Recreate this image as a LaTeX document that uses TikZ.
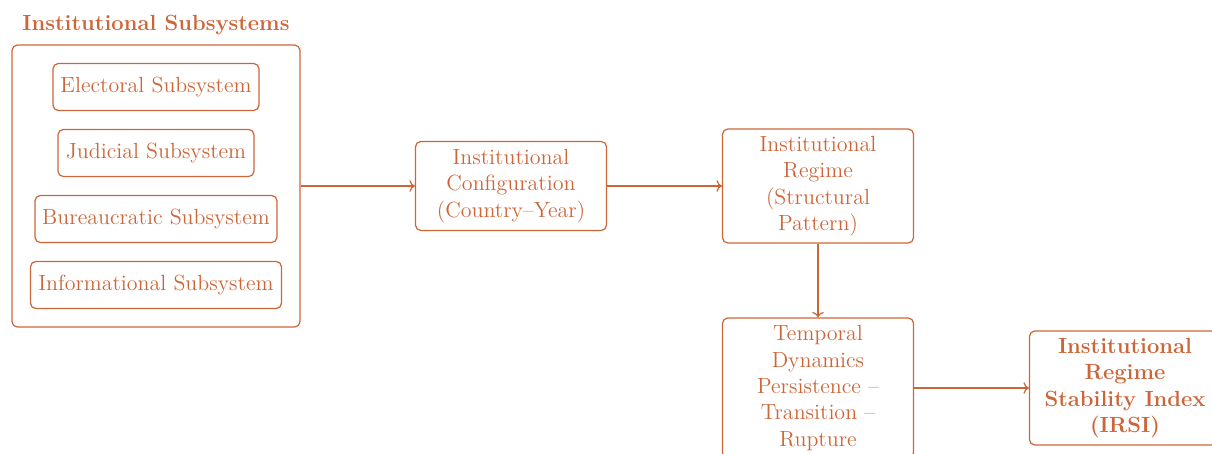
\documentclass[tikz,border=0pt]{standalone}
\usepackage{xcolor}
\usepackage{tikz}
\usetikzlibrary{arrows.meta}
\usetikzlibrary{shapes.geometric, arrows, positioning, calc}
\definecolor{rust}{RGB}{204,102,56}

\begin{document}
\begin{tikzpicture}[x=0.02cm, y=0.02cm]
		\newcommand*{\stagew}{3.82cm}
		\tikzset{
			every node/.style={text=rust, font=\fontsize{12.5}{15}\selectfont},
			subbox/.style={draw=rust, line width=0.7pt, rounded corners=3pt, minimum height=0.94cm},
			stagebox/.style={draw=rust, line width=0.7pt, rounded corners=3pt, align=center, minimum width=\stagew},
			flow/.style={draw=rust, line width=0.7pt, ->},
		}
		\useasboundingbox (0,0) rectangle (1212,-453);
		\node[font=\fontsize{12.5}{15}\selectfont\bfseries] (title) at (156,-25) {Institutional Subsystems};
		\node[draw=rust, line width=0.7pt, rounded corners=3pt, minimum width=5.76cm, minimum height=5.64cm] (outer) at (156,-186) {};
		\node[subbox, minimum width=4.12cm] (elec) at (156,-87) {Electoral Subsystem};
		\node[subbox, minimum width=3.92cm] (jud) at (156,-153) {Judicial Subsystem};
		\node[subbox, minimum width=4.84cm] (bur) at (156,-219) {Bureaucratic Subsystem};
		\node[subbox, minimum width=5.02cm] (inf) at (156,-285) {Informational Subsystem};
		\node[stagebox, minimum height=1.78cm] (config) at (511,-186) {Institutional\\Configuration\\(Country--Year)};
		\node[stagebox, minimum height=2.28cm] (regime) at (818,-186) {Institutional\\Regime\\(Structural\\Pattern)};
		\node[stagebox, minimum height=2.8cm] (temporal) at (818,-388) {Temporal\\Dynamics\\Persistence --\\Transition --\\Rupture};
		\node[stagebox, minimum height=2.28cm, font=\fontsize{12.5}{15}\selectfont\bfseries] (irsi) at (1125,-388) {Institutional\\Regime\\Stability Index\\(IRSI)};
		\draw[flow] (outer) -- (config);
		\draw[flow] (config) -- (regime);
		\draw[flow] (regime) -- (temporal);
		\draw[flow] (temporal) -- (irsi);
	\end{tikzpicture}
\end{document}
